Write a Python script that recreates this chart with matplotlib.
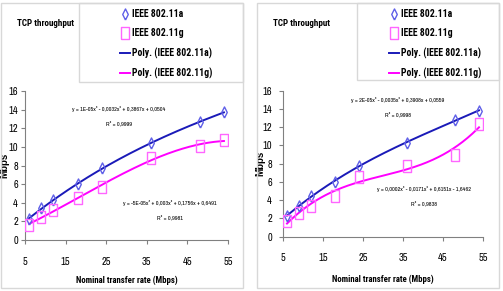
import numpy as np
import matplotlib
matplotlib.use("Agg")
import matplotlib.pyplot as plt
import matplotlib.font_manager as fm
from matplotlib.lines import Line2D
from matplotlib.patches import Rectangle

# nominal rates (Mbps)
rates = [6, 9, 12, 18, 24, 36, 48, 54]

# left chart
left_a = [2.3, 3.4, 4.3, 6.0, 7.7, 10.4, 12.7, 13.7]
left_g = [1.6, 2.5, 3.2, 4.5, 5.7, 8.8, 10.1, 10.7]
left_eq_a = ["y = 1E-05x³ - 0,0032x² + 0,3867x + 0,0504", "R² = 0,9999"]
left_eq_g = ["y = -5E-05x³ + 0,003x² + 0,1756x + 0,6491", "R² = 0,9981"]

# right chart
right_a = [2.25, 3.4, 4.5, 6.0, 7.8, 10.3, 12.8, 13.8]
right_g = [1.7, 2.6, 3.4, 4.5, 6.5, 7.8, 9.0, 12.4]
right_eq_a = ["y = 2E-05x³ - 0,0035x² + 0,3908x + 0,0559", "R² = 0,9998"]
right_eq_g = ["y = 0,0002x³ - 0,0171x² + 0,6151x - 1,6462", "R² = 0,9838"]

xticks = [5, 15, 25, 35, 45, 55]
yticks = [0, 2, 4, 6, 8, 10, 12, 14, 16]

# pick a narrow font that has a real bold face
have = {}
for f in fm.fontManager.ttflist:
    have.setdefault(f.name, set()).add(f.weight)
BOLD_NARROW = "DejaVu Sans"
for name in ["Liberation Sans Narrow", "Roboto Condensed", "Open Sans Condensed",
             "Asap Condensed", "Archivo Narrow", "Saira SemiCondensed"]:
    if name in have and any(w >= 600 for w in have[name]):
        BOLD_NARROW = name
        break
NARROW = ["Archivo Narrow", "DejaVu Sans"]
BOLD = [BOLD_NARROW, "DejaVu Sans"]
plt.rcParams['font.family'] = NARROW

blue = '#1a1ab8'
blue_m = '#6060e8'
pink = '#ff00ff'
pink_m = '#ff66ff'
grid_c = '#808080'

# tall rectangle / narrow diamond markers (chart is squashed horizontally)
sq = [(-0.35, -0.5), (0.35, -0.5), (0.35, 0.5), (-0.35, 0.5), (-0.35, -0.5)]
dm = [(0, -0.5), (0.25, 0), (0, 0.5), (-0.25, 0), (0, -0.5)]

W, H = 503, 291
fig = plt.figure(figsize=(W / 100, H / 100), dpi=100)


def px(x0, y0, x1, y1):
    # pixel box (top-left origin) -> figure fraction
    return [x0 / W, 1 - y1 / H, (x1 - x0) / W, (y1 - y0) / H]


def panel(box, axbox, ya, yg, eq_a, eq_g, eqpos_a, eqpos_g, legx, legbox, ylab_x, xlab_y, ypad):
    fig.add_artist(Rectangle((box[0] / W, 1 - box[3] / H), (box[2] - box[0]) / W,
                             (box[3] - box[1]) / H, transform=fig.transFigure,
                             fill=False, edgecolor='#d8d8d8', lw=1))
    fig.add_artist(Rectangle((legbox[0] / W, 1 - legbox[3] / H), (legbox[2] - legbox[0]) / W,
                             (legbox[3] - legbox[1]) / H, transform=fig.transFigure,
                             fill=False, edgecolor='#d8d8d8', lw=1))
    ax = fig.add_axes(px(*axbox))
    xs = np.linspace(rates[0], rates[-1], 200)
    for ys, c, mc, m in [(ya, blue, blue_m, dm), (yg, pink, pink_m, sq)]:
        coef = np.polyfit(rates, ys, 3)
        ax.plot(xs, np.polyval(coef, xs), color=c, lw=1.4, zorder=2)
        ax.plot(rates, ys, ls='none', marker=m, ms=8, mfc='none', mec=mc, mew=1, zorder=3)
    ax.set_xlim(5, 55)
    ax.set_ylim(0, 16)
    ax.set_xticks(xticks)
    ax.set_yticks(yticks)
    for s in ['top', 'right']:
        ax.spines[s].set_visible(False)
    for s in ['left', 'bottom']:
        ax.spines[s].set_color(grid_c)
        ax.spines[s].set_linewidth(0.8)
    ax.tick_params(axis='x', direction='out', length=3, color=grid_c, labelsize=7.5, pad=9)
    ax.tick_params(axis='y', direction='out', length=3, color=grid_c, labelsize=7.5, pad=ypad)
    ax.set_xlabel("Nominal transfer rate (Mbps)", fontsize=6.3, fontweight='bold', family=BOLD)
    ax.xaxis.set_label_coords(0.5, xlab_y)
    ax.set_ylabel("Mbps", fontsize=7, fontweight='bold', family=['Liberation Sans', 'DejaVu Sans'])
    ax.yaxis.set_label_coords(ylab_x, 0.5)

    for (x, y), lines in [(eqpos_a, eq_a), (eqpos_g, eq_g)]:
        fig.text(x / W, 1 - y / H, lines[0], fontsize=4.4, ha='center', va='center')
        fig.text(x / W, 1 - (y + 14) / H, lines[1], fontsize=4.4, ha='center', va='center')

    fig.text((box[0] + 16) / W, 1 - 24 / H, "TCP throughput", fontsize=6.5,
             fontweight='bold', family=BOLD, ha='left', va='center')

    handles = [
        Line2D([], [], ls='none', marker=dm, ms=8, mfc='none', mec=blue_m, mew=1),
        Line2D([], [], ls='none', marker=sq, ms=8, mfc='none', mec=pink_m, mew=1),
        Line2D([], [], color=blue, lw=1.4),
        Line2D([], [], color=pink, lw=1.4),
    ]
    labels = ["IEEE 802.11a", "IEEE 802.11g", "Poly. (IEEE 802.11a)", "Poly. (IEEE 802.11g)"]
    fig.legend(handles, labels, loc='upper left', bbox_to_anchor=(legx / W, 1 - 9 / H),
               frameon=False, borderpad=0, borderaxespad=0, handlelength=1.0,
               handletextpad=0.25, labelspacing=0.95,
               prop={'size': 7, 'weight': 'bold', 'family': BOLD})
    return ax


panel(box=(1, 3, 243, 288), axbox=(25, 91, 228, 240),
      ya=left_a, yg=left_g, eq_a=left_eq_a, eq_g=left_eq_g,
      eqpos_a=(119, 109), eqpos_g=(170, 203), legx=120,
      legbox=(79, 3, 243, 82), ylab_x=-0.075, xlab_y=-0.24, ypad=2)

panel(box=(257, 3, 499, 288), axbox=(283, 90.7, 483, 236.7),
      ya=right_a, yg=right_g, eq_a=right_eq_a, eq_g=right_eq_g,
      eqpos_a=(398, 100), eqpos_g=(424, 189), legx=389,
      legbox=(357, 3, 499, 80), ylab_x=-0.09, xlab_y=-0.26, ypad=5)

fig.savefig("out.png", dpi=100)
